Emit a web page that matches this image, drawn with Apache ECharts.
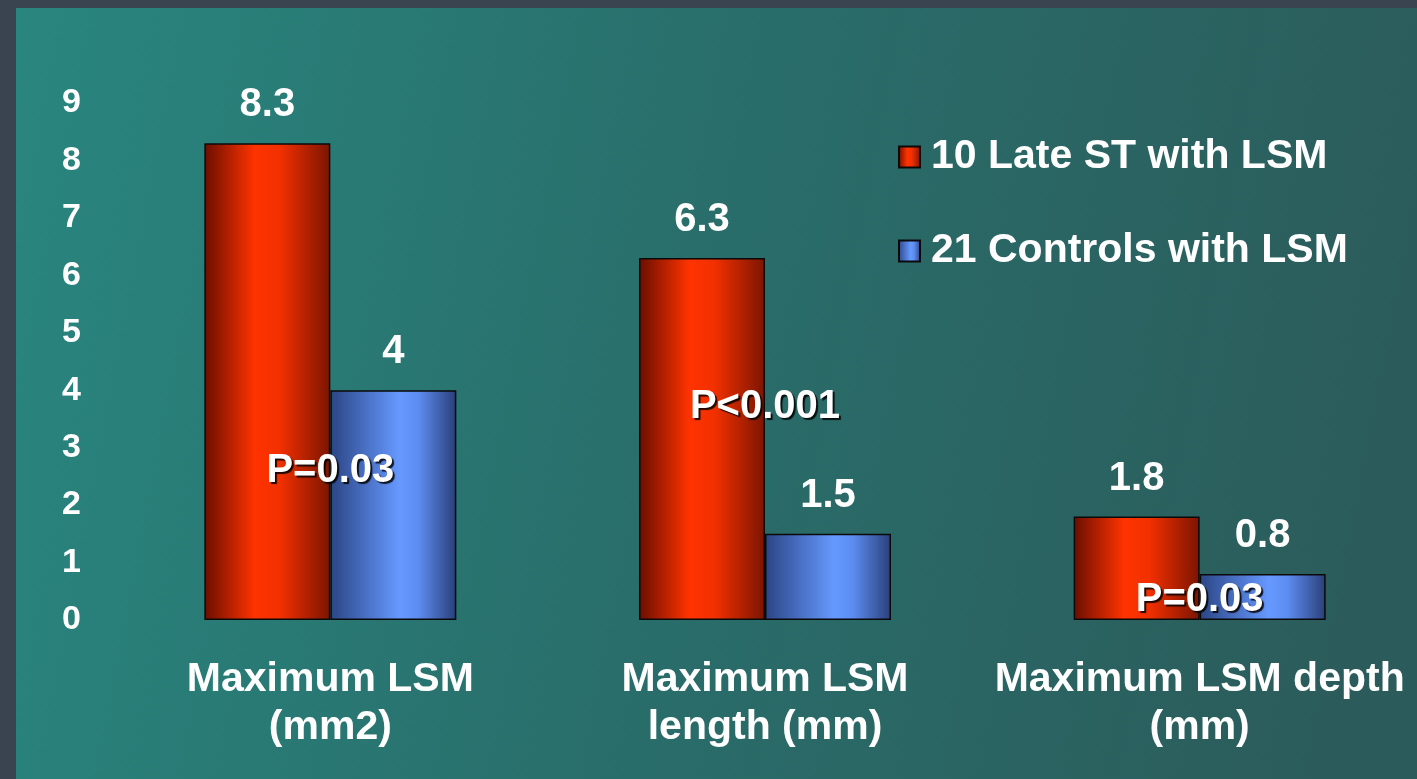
<!DOCTYPE html>
<html>
<head>
<meta charset="utf-8">
<script src="https://cdn.jsdelivr.net/npm/echarts@6/dist/echarts.min.js"></script>
<style>
  html, body { margin: 0; padding: 0; width: 1417px; height: 779px; overflow: hidden; background: #3a4450; }
  #chart { position: absolute; left: 16px; top: 8px; width: 1401px; height: 771px; }
</style>
</head>
<body>
<div id="chart"></div>
<script>
// chart data
const categories = ["Maximum LSM\n(mm2)", "Maximum LSM\nlength (mm)", "Maximum LSM depth\n(mm)"];
const seriesNames = ["10 Late ST with LSM", "21 Controls with LSM"];
const lateST = [8.3, 6.3, 1.8];
const controls = [4, 1.5, 0.8];
const pLabels = ["P=0.03", "P<0.001", "P=0.03"];
const pLabelLevels = [2.6, 3.7, 0.35];
const yMin = 0;
const yMax = 9;
const yStep = 1;

const FONT = "'Liberation Sans', Arial, sans-serif";

// horizontal "cylinder" shading for the bars
const redFill = new echarts.graphic.LinearGradient(0, 0, 1, 0, [
  { offset: 0, color: "#6a0e00" },
  { offset: 0.4, color: "#ff3300" },
  { offset: 0.6, color: "#f23000" },
  { offset: 1, color: "#7a1500" },
]);
const blueFill = new echarts.graphic.LinearGradient(0, 0, 1, 0, [
  { offset: 0, color: "#2b4585" },
  { offset: 0.55, color: "#6699ff" },
  { offset: 0.7, color: "#5c8cf0" },
  { offset: 1, color: "#2a3f78" },
]);

const valueLabel = {
  show: true,
  position: "top",
  distance: 18,
  color: "#ffffff",
  fontFamily: FONT,
  fontWeight: "bold",
  fontSize: 40,
};

const barStyle = (fill) => ({
  color: fill,
  borderColor: "#0a0a0a",
  borderWidth: 1.5,
});

const myChart = echarts.init(document.getElementById("chart"));

myChart.setOption({
  backgroundColor: new echarts.graphic.LinearGradient(0, 0, 1, 0.35, [
    { offset: 0, color: "#29867f" },
    { offset: 0.5, color: "#296e6b" },
    { offset: 1, color: "#2b5c5b" },
  ]),
  animation: false,
  legend: {
    data: seriesNames.map((name) => ({ name, icon: "rect" })),
    orient: "vertical",
    left: 877,
    top: 122,
    itemWidth: 21,
    itemHeight: 21,
    itemGap: 50,
    textStyle: {
      color: "#ffffff",
      fontFamily: FONT,
      fontWeight: "bold",
      fontSize: 41,
      lineHeight: 44,
      padding: [0, 0, 0, 6],
    },
  },
  grid: {
    left: 97,
    top: 95,
    width: 1308,
    bottom: 159,
  },
  xAxis: {
    type: "category",
    data: categories,
    axisLine: { show: false },
    axisTick: { show: false },
    axisLabel: {
      interval: 0,
      color: "#ffffff",
      fontFamily: FONT,
      fontWeight: "bold",
      fontSize: 41,
      lineHeight: 48,
      margin: 36,
    },
  },
  yAxis: {
    type: "value",
    min: yMin,
    max: yMax,
    interval: yStep,
    splitLine: { show: false },
    axisLine: { show: false },
    axisTick: { show: false },
    axisLabel: {
      color: "#ffffff",
      fontFamily: FONT,
      fontWeight: "bold",
      fontSize: 34,
      margin: 32,
    },
  },
  series: [
    {
      name: seriesNames[0],
      type: "bar",
      barWidth: 126,
      barGap: "0%",
      data: lateST,
      itemStyle: barStyle(redFill),
      label: valueLabel,
    },
    {
      name: seriesNames[1],
      type: "bar",
      barWidth: 126,
      data: controls,
      itemStyle: barStyle(blueFill),
      label: valueLabel,
    },
    {
      name: "p",
      type: "scatter",
      symbolSize: 0,
      z: 5,
      silent: true,
      itemStyle: { opacity: 1 },
      data: pLabelLevels.map((v, i) => [i, v]),
      label: {
        show: true,
        position: "inside",
        formatter: (p) => pLabels[p.dataIndex],
        color: "#ffffff",
        opacity: 1,
        fontFamily: FONT,
        fontWeight: "bold",
        fontSize: 40,
        textBorderWidth: 0,
        textBorderColor: "transparent",
        textShadowColor: "rgba(0,0,0,0.85)",
        textShadowOffsetX: 2,
        textShadowOffsetY: 2,
        textShadowBlur: 1,
      },
    },
  ],
});
</script>
</body>
</html>
